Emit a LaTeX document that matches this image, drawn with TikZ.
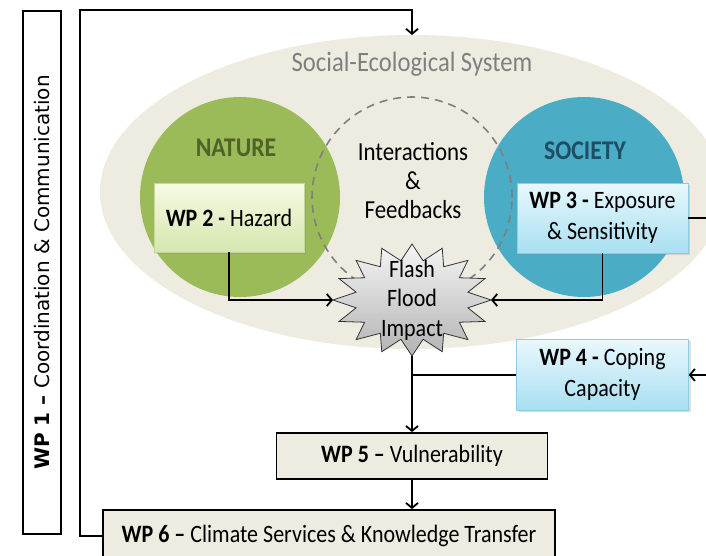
\documentclass[tikz,border=0pt]{standalone}
\usepackage{fontspec}
\setmainfont{Carlito}[FakeStretch=0.88]
\newfontfamily\wponefont{DejaVu Sans}
\usetikzlibrary{positioning, shadows, arrows.meta}

\definecolor{sesbeige}{HTML}{EEECE1}
\definecolor{sesgray}{HTML}{7F7F7F}
\definecolor{naturegreen}{HTML}{9BBB59}
\definecolor{naturedark}{HTML}{4F6228}
\definecolor{societyblue}{HTML}{4BACC6}
\definecolor{societydark}{HTML}{1F4E64}
\definecolor{hazardtop}{HTML}{F6FBE3}
\definecolor{hazardbot}{HTML}{D5E6AE}
\definecolor{hazardline}{HTML}{C4D89A}
\definecolor{socialtop}{HTML}{E9F8FD}
\definecolor{socialbot}{HTML}{A8DFF1}
\definecolor{socialline}{HTML}{8CCDE3}

\newcommand{\boxfont}{\fontsize{25}{31}\selectfont}

\tikzset{
  wpnature/.style={draw=hazardline, top color=hazardtop, bottom color=hazardbot,
    align=center, font=\boxfont,
    drop shadow={opacity=0.25, shadow xshift=2pt, shadow yshift=-2pt}},
  wpsociety/.style={draw=socialline, top color=socialtop, bottom color=socialbot,
    align=center, font=\boxfont,
    drop shadow={opacity=0.25, shadow xshift=2pt, shadow yshift=-2pt}},
  wpplain/.style={draw=black, line width=1.8pt, fill=sesbeige, align=center, font=\boxfont},
  sphere/.style={circle, minimum size=200pt, inner sep=0pt},
  link/.style={line width=1.8pt, -{Straight Barb[length=5pt, width=12pt]}},
  wire/.style={line width=1.8pt}
}

\begin{document}
\begin{tikzpicture}[x=1pt, y=-1pt, node distance=86pt]
  \useasboundingbox (0,0) rectangle (706,555);
  \clip (0,0) rectangle (706,555);

  % social-ecological system
  \fill[sesbeige] (412,192) ellipse [x radius=312pt, y radius=157pt];
  \node[text=sesgray, font=\fontsize{28}{32}\selectfont] (ses) at (412,64) {Social-Ecological System};
  \coordinate (sestop) at (412,35);

  \node[sphere, fill=naturegreen] (nature) at (240,197) {};
  \node[sphere, fill=societyblue] (society) at (584,197) {};
  \node[sphere, draw=sesgray, line width=1.6pt, dash pattern=on 8pt off 6pt] (interplay) at (412,197) {};

  \node[text=naturedark, font=\fontsize{27}{30}\selectfont\bfseries] (naturelbl) at (236,148) {NATURE};
  \node[text=societydark, font=\fontsize{27}{30}\selectfont\bfseries] (societylbl) at (585,151) {SOCIETY};
  \node[align=center, font=\fontsize{26}{29}\selectfont] (interlbl) at (413,181) {Interactions\\\&\\Feedbacks};

  % flash flood impact
  \draw[draw=black!80, line width=0.8pt, top color=black!4, bottom color=black!30]
    plot[samples at={0,11.25,...,348.75}, variable=\a]
      ({412+(79-22*mod(round(\a/11.25),2))*cos(\a)}, {300+(56-16*mod(round(\a/11.25),2))*sin(\a)}) -- cycle;
  \node[align=center, font=\fontsize{25}{29.5}\selectfont] (flash) at (412,300) {Flash\\Flood\\Impact};
  \coordinate (flashw) at (333,300);
  \coordinate (flashe) at (491,300);
  \coordinate (flashs) at (412,356);

  % work packages
  \node[wpnature, minimum width=150pt, minimum height=69pt] (wp2) at (229,217.5) {\textbf{WP 2 -} Hazard};
  \node[wpsociety, minimum width=171pt, minimum height=70pt] (wp3) at (602.5,218) {\textbf{WP 3 -} Exposure\\\& Sensitivity};
  \node[wpsociety, minimum width=172pt, minimum height=71pt, below=86pt of wp3] (wp4) {\textbf{WP 4 -} Coping\\Capacity};
  \node[wpplain, minimum width=271pt, minimum height=46pt] (wp5) at (412,456) {\textbf{WP 5 --} Vulnerability};
  \node[wpplain, minimum width=452pt, minimum height=52pt] (wp6) at (329,536) {\textbf{WP 6 --} Climate Services \& Knowledge Transfer};
  \node[draw=black, line width=1.8pt, rotate=90, minimum width=523pt, minimum height=38pt,
    font=\wponefont\fontsize{20}{24}\selectfont] (wp1) at (42,272.5) {\textbf{WP 1 \textendash} Coordination \& Communication};

  \coordinate (fbtop) at (80,10);
  \coordinate (offright) at (720,0);

  \draw[link] (wp6.west) -| (fbtop) -| (sestop);
  \draw[link] (wp2.south) |- (flashw);
  \draw[link] (wp3.south) |- (flashe);
  \draw[link] (flashs) -- (wp5.north);
  \draw[wire] (wp4.west) -- (wp4.west -| flashs);
  \draw[link] (wp5.south) -- (wp5.south |- wp6.north);
  \draw[wire] (wp3.east) -- (wp3.east -| offright);
  \draw[link] (wp4.east -| offright) -- (wp4.east);
\end{tikzpicture}
\end{document}
